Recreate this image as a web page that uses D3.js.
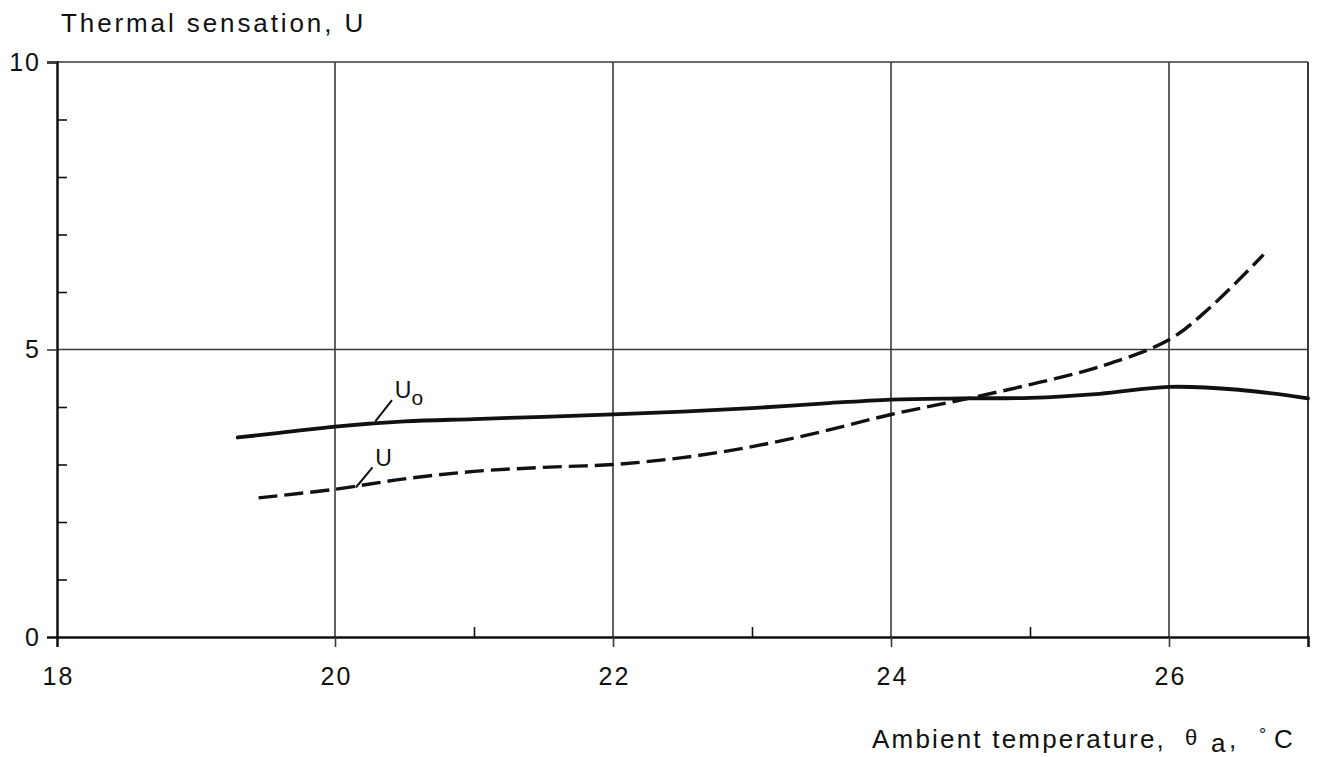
<!DOCTYPE html>
<html>
<head>
<meta charset="utf-8">
<script src="https://cdn.jsdelivr.net/npm/d3@7"></script>
<style>
  html, body { margin: 0; padding: 0; background: #fff; }
  svg { display: block; }
  text { font-family: "Liberation Sans", Arial, Helvetica, sans-serif; fill: #111; }
</style>
</head>
<body>
<svg id="chart" width="1317" height="757"></svg>
<script>
// ---- data ----
const xTickLabels = [18, 20, 22, 24, 26];
const xGrid = [20, 22, 24, 26];
const xMinor = [21, 23, 25];
const yTickLabels = [0, 5, 10];
const yMinor = [1, 2, 3, 4, 6, 7, 8, 9];
const yGrid = [5, 10];

const uoTemp = [19.3, 19.6, 20, 20.5, 21, 21.5, 22, 22.5, 23, 23.5, 24, 24.5, 25, 25.5, 26, 26.5, 27];
const uoVal  = [3.47, 3.55, 3.66, 3.75, 3.79, 3.83, 3.87, 3.92, 3.98, 4.06, 4.13, 4.15, 4.16, 4.23, 4.35, 4.30, 4.15];

const uTemp = [19.45, 20, 20.5, 21, 21.5, 22, 22.5, 23, 23.5, 24, 24.5, 25, 25.5, 26, 26.3, 26.68];
const uVal  = [2.42, 2.57, 2.75, 2.88, 2.95, 3.0, 3.12, 3.31, 3.57, 3.87, 4.12, 4.39, 4.70, 5.17, 5.74, 6.65];

// ---- layout ----
const svg = d3.select("#chart");
const mLeft = 57, mRight = 1308, mTop = 62, mBottom = 637;
const x = d3.scaleLinear().domain([18, 27]).range([mLeft, mRight]);
const y = d3.scaleLinear().domain([0, 10]).range([mBottom, mTop]);
const ink = "#111";
const grid = "#3a3a3a";

// gridlines
svg.append("g").selectAll("line").data(xGrid).join("line")
  .attr("x1", d => x(d)).attr("x2", d => x(d))
  .attr("y1", y(10)).attr("y2", y(0))
  .attr("stroke", grid).attr("stroke-width", 1.6);
svg.append("g").selectAll("line").data(yGrid).join("line")
  .attr("x1", x(18)).attr("x2", x(27))
  .attr("y1", d => y(d)).attr("y2", d => y(d))
  .attr("stroke", grid).attr("stroke-width", 1.6);
// right border
svg.append("line").attr("x1", x(27)).attr("x2", x(27)).attr("y1", y(10)).attr("y2", y(0))
  .attr("stroke", grid).attr("stroke-width", 2);

// x axis (major ticks below)
const xAxis = d3.axisBottom(x).tickValues(xTickLabels).tickSize(10).tickPadding(20).tickFormat(d3.format("d"));
const gx = svg.append("g").attr("transform", `translate(0,${mBottom})`).call(xAxis);
gx.select(".domain").attr("stroke", ink).attr("stroke-width", 2.5);
gx.selectAll(".tick line").attr("stroke", grid).attr("stroke-width", 1.6)
  .attr("opacity", d => d === 18 ? 0 : 1);
gx.selectAll(".tick text").attr("font-size", 25).attr("letter-spacing", 2).attr("fill", ink)
  .attr("dx", 1);

// x minor ticks (upward)
svg.append("g").attr("transform", `translate(0,${mBottom})`)
  .call(d3.axisTop(x).tickValues(xMinor).tickSize(10).tickFormat(""))
  .call(g => g.select(".domain").remove())
  .call(g => g.selectAll(".tick line").attr("stroke", ink).attr("stroke-width", 1.6));

// y axis (major ticks outward, labels)
const yAxis = d3.axisLeft(y).tickValues(yTickLabels).tickSize(10).tickPadding(8).tickFormat(d3.format("d"));
const gy = svg.append("g").attr("transform", `translate(${mLeft},0)`).call(yAxis);
gy.select(".domain").attr("stroke", ink).attr("stroke-width", 2.5);
gy.selectAll(".tick line").attr("stroke", grid).attr("stroke-width", 1.6)
  .attr("opacity", d => d === 0 ? 0 : 1);
gy.selectAll(".tick text").attr("font-size", 25).attr("letter-spacing", 2).attr("fill", ink)
  .attr("dx", 2);

// y minor ticks (inward)
svg.append("g").attr("transform", `translate(${mLeft},0)`)
  .call(d3.axisRight(y).tickValues(yMinor).tickSize(10).tickFormat(""))
  .call(g => g.select(".domain").remove())
  .call(g => g.selectAll(".tick line").attr("stroke", ink).attr("stroke-width", 1.6));

// curves
const line = d3.line().x(d => x(d[0])).y(d => y(d[1])).curve(d3.curveCatmullRom.alpha(0.5));
svg.append("path").datum(d3.zip(uoTemp, uoVal)).attr("d", line)
  .attr("fill", "none").attr("stroke", ink).attr("stroke-width", 3.8).attr("stroke-linecap", "round");
svg.append("path").datum(d3.zip(uTemp, uVal)).attr("d", line)
  .attr("fill", "none").attr("stroke", ink).attr("stroke-width", 3.4)
  .attr("stroke-dasharray", "19,7");

// curve labels with leader lines
svg.append("line").attr("x1", x(20.29)).attr("y1", y(3.75)).attr("x2", x(20.41)).attr("y2", y(4.12))
  .attr("stroke", ink).attr("stroke-width", 2);
const uo = svg.append("text").attr("x", x(20.43)).attr("y", y(4.16)).attr("font-size", 23);
uo.append("tspan").text("U");
uo.append("tspan").attr("dy", 7).attr("font-size", 21).text("o");

svg.append("line").attr("x1", x(20.15)).attr("y1", y(2.60)).attr("x2", x(20.27)).attr("y2", y(2.95))
  .attr("stroke", ink).attr("stroke-width", 2);
svg.append("text").attr("x", x(20.29)).attr("y", y(2.98)).attr("font-size", 23).text("U");

// titles
svg.append("text").attr("x", 61).attr("y", 32).attr("font-size", 26).attr("letter-spacing", 2.9)
  .text("Thermal sensation, U");

const xt = svg.append("text").attr("y", 748).attr("font-size", 26).attr("letter-spacing", 2.2);
xt.append("tspan").attr("x", 872).text("Ambient temperature,");
xt.append("tspan").attr("x", 1185).attr("y", 745).attr("font-size", 22).attr("letter-spacing", 0).text("θ");
xt.append("tspan").attr("x", 1211).attr("y", 752).attr("letter-spacing", 0).text("a");
xt.append("tspan").attr("x", 1229).attr("y", 748).attr("letter-spacing", 0).text(",");
xt.append("tspan").attr("x", 1259).attr("y", 741).attr("font-size", 18).attr("letter-spacing", 0).text("°");
xt.append("tspan").attr("x", 1274).attr("y", 748).attr("letter-spacing", 0).text("C");
</script>
</body>
</html>
